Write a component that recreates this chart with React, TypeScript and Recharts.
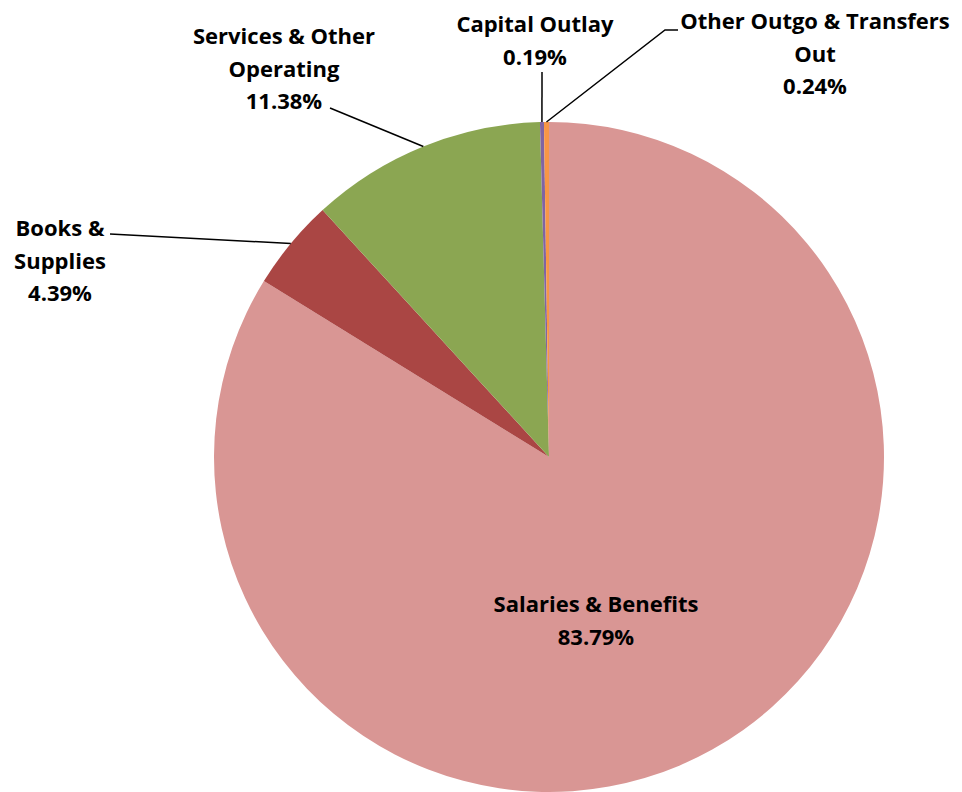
import React from 'react';
import { PieChart, Pie, Cell } from 'recharts';

const categories = [
  'Salaries & Benefits',
  'Books & Supplies',
  'Services & Other Operating',
  'Capital Outlay',
  'Other Outgo & Transfers Out',
];
const shares = [83.79, 4.39, 11.38, 0.19, 0.24];
const labelLines = [
  ['Salaries & Benefits'],
  ['Books &', 'Supplies'],
  ['Services & Other', 'Operating'],
  ['Capital Outlay'],
  ['Other Outgo & Transfers', 'Out'],
];
const colors = ['#D99694', '#AA4644', '#8BA652', '#8064A2', '#F79646'];

// label placement relative to pie centre: text centre x, first line y, leader path points
const labelLayout = [
  { dx: 47, dy: 146, leader: [] as number[][] },
  { dx: -489, dy: -230, leader: [[-439, -223]] },
  { dx: -265, dy: -422, leader: [[-219, -349]] },
  { dx: -14, dy: -434, leader: [[-7, -385]] },
  { dx: 266, dy: -437, leader: [[116, -427], [129, -427]] },
];

const LINE_H = 32.5;
const RAD = Math.PI / 180;

const data = categories.map((name, i) => ({ name, value: shares[i] }));

const renderLabel = (props: any) => {
  const { cx, cy, midAngle, outerRadius, index } = props;
  const lay = labelLayout[index];
  const lines = [...labelLines[index], shares[index].toFixed(2) + '%'];
  const sx = cx + outerRadius * Math.cos(-midAngle * RAD);
  const sy = cy + outerRadius * Math.sin(-midAngle * RAD);
  const pts = [[sx, sy], ...lay.leader.map((p) => [cx + p[0], cy + p[1]])];
  return (
    <g key={'lbl' + index}>
      {pts.length > 1 && (
        <polyline
          points={pts.map((p) => p.join(',')).join(' ')}
          fill="none"
          stroke="#000"
          strokeWidth={1.5}
        />
      )}
      {lines.map((t, j) => (
        <text
          key={j}
          x={cx + lay.dx}
          y={cy + lay.dy + j * LINE_H}
          textAnchor="middle"
          dominantBaseline="central"
          fill="#000"
          fontFamily="'Open Sans', Lato, sans-serif"
          fontWeight="bold"
          fontSize={22}
        >
          {t}
        </text>
      ))}
    </g>
  );
};

const App: React.FC = () => {
  return (
    <div style={{ position: 'absolute', left: 0, top: 0, width: 962, height: 792, background: '#fff' }}>
      <PieChart width={962} height={792} margin={{ top: 0, right: 0, bottom: 0, left: 0 }}>
        <Pie
          data={data}
          dataKey="value"
          nameKey="name"
          cx={549}
          cy={457}
          outerRadius={335}
          startAngle={90}
          endAngle={-270}
          stroke="none"
          labelLine={false}
          label={renderLabel}
          isAnimationActive={false}
        >
          {data.map((d, i) => (
            <Cell key={d.name} fill={colors[i]} />
          ))}
        </Pie>
      </PieChart>
    </div>
  );
};

export default App;
